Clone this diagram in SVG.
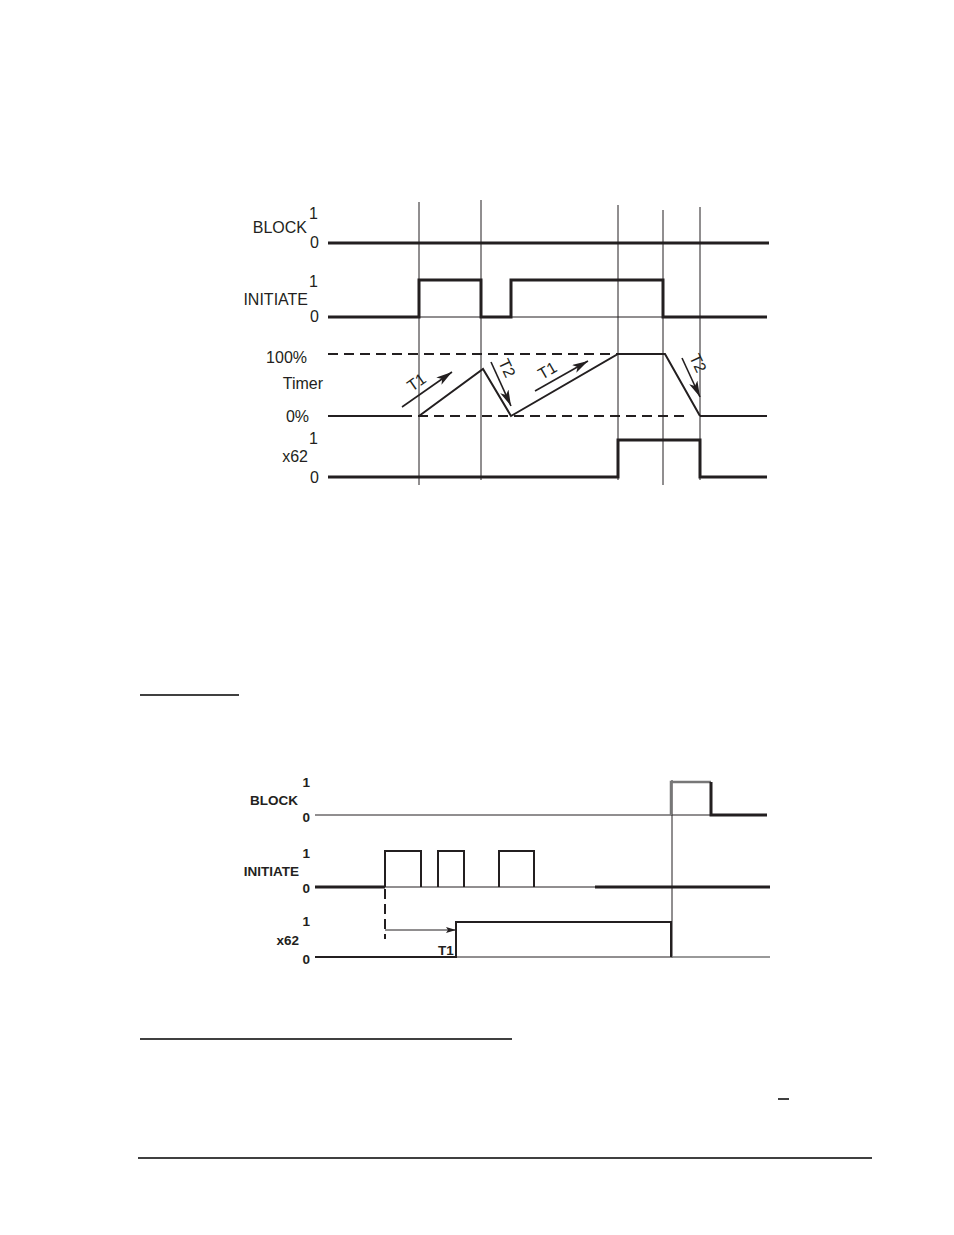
<svg xmlns="http://www.w3.org/2000/svg" width="954" height="1235" viewBox="0 0 954 1235">
<defs>
<style>
.t{font-family:"Liberation Sans",Arial,sans-serif;font-size:16px;fill:#231f20}
.b{font-family:"Liberation Sans",Arial,sans-serif;font-size:13.5px;font-weight:bold;fill:#231f20}
.r{text-anchor:end}
.thick{stroke:#231f20;stroke-width:3;fill:none}
.med{stroke:#231f20;stroke-width:2;fill:none}
.thin{stroke:#231f20;stroke-width:1;fill:none}
.arr{stroke:#231f20;stroke-width:1.6;fill:none}
.dash{stroke:#231f20;stroke-width:2;fill:none;stroke-dasharray:10 6}
.rule{stroke:#000;stroke-width:1.5}
</style>
<marker id="ah" viewBox="0 0 16 9" refX="16" refY="4.5" markerWidth="16" markerHeight="9" markerUnits="userSpaceOnUse" orient="auto">
<path d="M0,0 L16,4.5 L0,9 L4,4.5 Z" fill="#231f20"/>
</marker>
<marker id="ah2" viewBox="0 0 10 6" refX="10" refY="3" markerWidth="10" markerHeight="6" markerUnits="userSpaceOnUse" orient="auto">
<path d="M0,0 L10,3 L0,6 L2,3 Z" fill="#231f20"/>
</marker>
</defs>
<rect width="954" height="1235" fill="#fff"/>

<g id="top-labels">
<text class="t r" x="318" y="219">1</text>
<text class="t r" x="307" y="233">BLOCK</text>
<text class="t r" x="319" y="248">0</text>
<text class="t r" x="318" y="287">1</text>
<text class="t r" x="308" y="305">INITIATE</text>
<text class="t r" x="319" y="322">0</text>
<text class="t r" x="307" y="363">100%</text>
<text class="t r" x="323" y="389">Timer</text>
<text class="t r" x="309" y="422">0%</text>
<text class="t r" x="318" y="444">1</text>
<text class="t r" x="308" y="462">x62</text>
<text class="t r" x="319" y="483">0</text>
</g>

<g id="top-markers">
<line class="thin" x1="419" y1="202" x2="419" y2="485"/>
<line class="thin" x1="481" y1="200" x2="481" y2="480"/>
<line class="thin" x1="618" y1="205" x2="618" y2="480"/>
<line class="thin" x1="663" y1="210" x2="663" y2="485"/>
<line class="thin" x1="700" y1="207" x2="700" y2="480"/>
</g>

<g id="block-top">
<line class="thick" x1="328" y1="243" x2="769" y2="243"/>
</g>

<g id="initiate-top">
<line class="thin" x1="419" y1="317" x2="663" y2="317"/>
<polyline class="thick" points="328,317 419,317 419,280 481,280 481,317 511,317 511,280 663,280 663,317 767,317"/>
</g>

<g id="timer-top">
<line class="dash" x1="328" y1="354" x2="618" y2="354"/>
<line class="med" x1="328" y1="416" x2="402" y2="416"/>
<line class="dash" x1="402" y1="416" x2="690" y2="416"/>
<line class="med" x1="700" y1="416" x2="767" y2="416"/>
<polyline class="med" points="419,416 483,369 511,416 618,354 665,354 700,416"/>
</g>

<g id="timer-arrows">
<line class="arr" x1="402" y1="407" x2="452" y2="372" marker-end="url(#ah)"/>
<text class="t" transform="translate(412,392) rotate(-35)">T1</text>
<line class="arr" x1="491" y1="362" x2="511" y2="406" marker-end="url(#ah)"/>
<text class="t" transform="translate(498,362) rotate(65)">T2</text>
<line class="arr" x1="535" y1="391" x2="588" y2="361" marker-end="url(#ah)"/>
<text class="t" transform="translate(542,380) rotate(-30)">T1</text>
<line class="arr" x1="682" y1="358" x2="700" y2="397" marker-end="url(#ah)"/>
<text class="t" transform="translate(689,357) rotate(65)">T2</text>
</g>

<g id="x62-top">
<polyline class="thick" points="328,477 618,477 618,440 700,440 700,477 767,477"/>
</g>

<g id="rule-1">
<line class="rule" x1="140" y1="695" x2="239" y2="695"/>
</g>

<g id="bottom-labels">
<text class="b r" x="310" y="787">1</text>
<text class="b r" x="298" y="805">BLOCK</text>
<text class="b r" x="310" y="822">0</text>
<text class="b r" x="310" y="858">1</text>
<text class="b r" x="299" y="876">INITIATE</text>
<text class="b r" x="310" y="893">0</text>
<text class="b r" x="310" y="926">1</text>
<text class="b r" x="299" y="945">x62</text>
<text class="b r" x="310" y="964">0</text>
<text class="b" x="438" y="955">T1</text>
</g>

<g id="bottom-marker">
<line class="thin" x1="672" y1="780" x2="672" y2="958"/>
</g>

<g id="block-bottom">
<line class="thin" x1="315" y1="815" x2="711" y2="815"/>
<polyline stroke="#777" stroke-width="2.5" fill="none" points="671,815 671,782 711,782"/>
<polyline class="thick" points="711,782 711,815 767,815"/>
</g>

<g id="initiate-bottom">
<line class="thin" x1="385" y1="887" x2="595" y2="887"/>
<line class="thick" x1="315" y1="887" x2="385" y2="887"/>
<line class="thick" x1="595" y1="887" x2="770" y2="887"/>
<polyline class="med" stroke-width="2.5" points="385,887 385,851 421,851 421,887"/>
<polyline class="med" stroke-width="2.5" points="438,887 438,851 464,851 464,887"/>
<polyline class="med" stroke-width="2.5" points="499,887 499,851 534,851 534,887"/>
</g>

<g id="x62-bottom">
<line class="thin" x1="456" y1="957" x2="671" y2="957"/>
<line stroke="#777" stroke-width="1.5" x1="671" y1="957" x2="770" y2="957"/>
<polyline class="med" stroke-width="2.5" points="315,957 456,957 456,922 671,922 671,957"/>
</g>

<g id="connectors">
<line class="med" x1="385" y1="889" x2="385" y2="939" stroke-dasharray="10 5"/>
<line class="thin" x1="385" y1="930" x2="456" y2="930" marker-end="url(#ah2)"/>
</g>

<g id="rules">
<line class="rule" x1="140" y1="1039" x2="512" y2="1039"/>
<line class="rule" x1="778" y1="1099" x2="789" y2="1099"/>
<line class="rule" x1="138" y1="1158" x2="872" y2="1158"/>
</g>
</svg>
